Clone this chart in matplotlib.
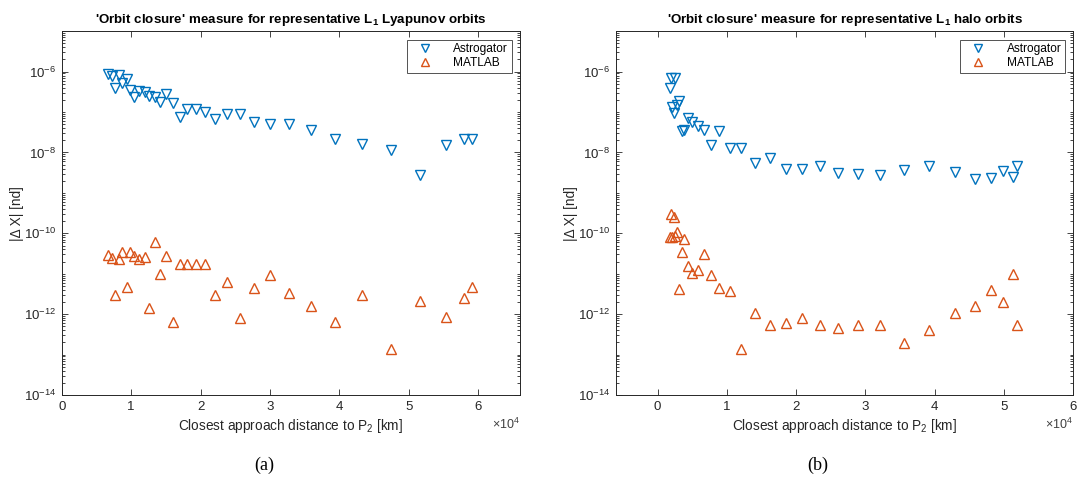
import numpy as np
import matplotlib
matplotlib.use('Agg')
import matplotlib.pyplot as plt
from matplotlib.ticker import LogLocator, NullFormatter, FixedLocator, FuncFormatter

plt.rcParams['font.family'] = ['Liberation Sans', 'DejaVu Sans']
plt.rcParams['mathtext.fontset'] = 'custom'
plt.rcParams['mathtext.rm'] = 'Liberation Sans'
plt.rcParams['mathtext.it'] = 'Liberation Sans'
plt.rcParams['mathtext.bf'] = 'Liberation Sans:bold'

# ---- data ----
# (a) L1 Lyapunov orbits
lyap_dist = [6720, 7210, 7740, 8270, 8700, 9380, 9860, 10440, 11200, 11980, 12640,
             13460, 14090, 15050, 16020, 16970, 18040, 19340, 20640, 22120, 23810,
             25630, 27750, 30060, 32760, 35930, 39340, 43290, 47470, 51600, 55360,
             57960, 59020]
lyap_astrogator = [8.6e-7, 7.8e-7, 3.9e-7, 8.3e-7, 5.2e-7, 6.5e-7, 3.5e-7, 2.3e-7, 3.4e-7,
                   3.2e-7, 2.5e-7, 2.3e-7, 1.8e-7, 2.8e-7, 1.7e-7, 7.4e-8, 1.2e-7, 1.2e-7,
                   1.0e-7, 6.8e-8, 8.9e-8, 8.9e-8, 5.8e-8, 5.2e-8, 5.1e-8, 3.6e-8, 2.2e-8,
                   1.6e-8, 1.15e-8, 2.8e-9, 1.55e-8, 2.1e-8, 2.2e-8]
lyap_matlab = [2.9e-11, 2.4e-11, 2.9e-12, 2.3e-11, 3.4e-11, 4.8e-12, 3.5e-11, 2.8e-11, 2.3e-11,
               2.6e-11, 1.4e-12, 6.2e-11, 1.0e-11, 2.8e-11, 6.5e-13, 1.7e-11, 1.7e-11, 1.75e-11,
               1.7e-11, 3.0e-12, 6.3e-12, 7.9e-13, 4.4e-12, 9.5e-12, 3.3e-12, 1.6e-12, 6.3e-13,
               2.9e-12, 1.4e-13, 2.1e-12, 8.7e-13, 2.5e-12, 4.8e-12]

# (b) L1 halo orbits
halo_dist = [1775, 1919, 2107, 2352, 2569, 2828, 3146, 3463, 3867, 4416, 5022, 5772,
             6638, 7691, 8889, 10404, 12092, 14040, 16205, 18514, 20823, 23377, 26061,
             28947, 32121, 35498, 39250, 42900, 45830, 48095, 49928, 51371, 51948]
halo_astrogator = [3.9e-7, 7.1e-7, 1.35e-7, 9.7e-8, 7.1e-7, 1.5e-7, 1.9e-7, 3.4e-8, 3.6e-8,
                   7.1e-8, 5.8e-8, 4.5e-8, 3.6e-8, 1.5e-8, 3.4e-8, 1.3e-8, 1.3e-8, 5.6e-9,
                   7.5e-9, 3.8e-9, 3.8e-9, 4.7e-9, 3.1e-9, 2.9e-9, 2.8e-9, 3.7e-9, 4.7e-9,
                   3.3e-9, 2.2e-9, 2.3e-9, 3.4e-9, 2.5e-9, 4.5e-9]
halo_matlab = [7.9e-11, 3.0e-10, 7.9e-11, 2.5e-10, 8.5e-11, 1.05e-10, 4.1e-12, 3.5e-11, 7.2e-11,
               1.55e-11, 1.07e-11, 1.23e-11, 3.0e-11, 9.1e-12, 4.5e-12, 3.8e-12, 1.4e-13, 1.05e-12,
               5.4e-13, 6.1e-13, 8.1e-13, 5.4e-13, 4.6e-13, 5.4e-13, 5.4e-13, 1.95e-13, 4.1e-13,
               1.05e-12, 1.6e-12, 4.0e-12, 2.0e-12, 9.8e-12, 5.4e-13]

titles = ["'Orbit closure' measure for representative L$_\\mathbf{1}$ Lyapunov orbits",
          "'Orbit closure' measure for representative L$_\\mathbf{1}$ halo orbits"]
captions = ['(a)', '(b)']
xlims = [(0, 66000), (-6000, 60000)]

blue = '#0072BD'
orange = '#D95319'

fig = plt.figure(figsize=(10.77, 4.8), dpi=100)
ax1 = fig.add_axes([0.0573, 0.177, 0.4255, 0.758])
ax2 = fig.add_axes([0.572, 0.177, 0.4245, 0.758])

panels = [(ax1, lyap_dist, lyap_astrogator, lyap_matlab),
          (ax2, halo_dist, halo_astrogator, halo_matlab)]

for i, (ax, xd, ya, ym) in enumerate(panels):
    ax.plot(xd, ya, linestyle='none', marker='v', ms=7.2, mfc='none', mec=blue, mew=1.0,
            label='Astrogator')
    ax.plot(xd, ym, linestyle='none', marker='^', ms=7.2, mfc='none', mec=orange, mew=1.0,
            label='MATLAB')
    ax.set_yscale('log')
    ax.set_ylim(1e-14, 1e-5)
    ax.set_xlim(*xlims[i])
    ax.yaxis.set_major_locator(FixedLocator([1e-14, 1e-12, 1e-10, 1e-8, 1e-6]))
    ax.yaxis.set_minor_locator(LogLocator(base=10, subs=np.arange(1, 10), numticks=100))
    ax.yaxis.set_minor_formatter(NullFormatter())
    ax.xaxis.set_major_locator(FixedLocator(np.arange(0, 7) * 1e4))
    ax.xaxis.set_major_formatter(FuncFormatter(lambda v, p: '%d' % round(v / 1e4)))
    ax.tick_params(which='both', direction='in', top=True, right=True, labelsize=9.5,
                   colors='#262626', width=0.6)
    ax.tick_params(which='major', length=4, pad=4)
    ax.tick_params(which='minor', length=2)
    for s in ax.spines.values():
        s.set_color('#262626')
        s.set_linewidth(0.7)
    ax.set_title(titles[i], fontsize=9.6, fontweight='bold', pad=6)
    ax.set_xlabel('Closest approach distance to P$_2$ [km]', fontsize=9.8, labelpad=3,
                  color='#262626')
    ax.set_ylabel('|\u0394 X| [nd]', fontsize=9.8, labelpad=0, color='#262626')
    ax.text(1.0, -0.06, '\u00d710$^4$', transform=ax.transAxes, fontsize=9,
            ha='right', va='top', color='#404040')
    leg = ax.legend(loc='upper right', fontsize=8.6, frameon=True, fancybox=False,
                    borderaxespad=0.7, handletextpad=1.2, borderpad=0.3, labelspacing=0.15,
                    handlelength=2.4, markerscale=0.85)
    leg.get_frame().set_edgecolor('#262626')
    leg.get_frame().set_linewidth(0.7)
    cx = ax.get_position().x0 + ax.get_position().width / 2
    fig.text(cx - 0.025, 0.03, captions[i], fontsize=13, family='Liberation Serif',
             ha='center', va='center')

fig.savefig('out.png', dpi=100)
